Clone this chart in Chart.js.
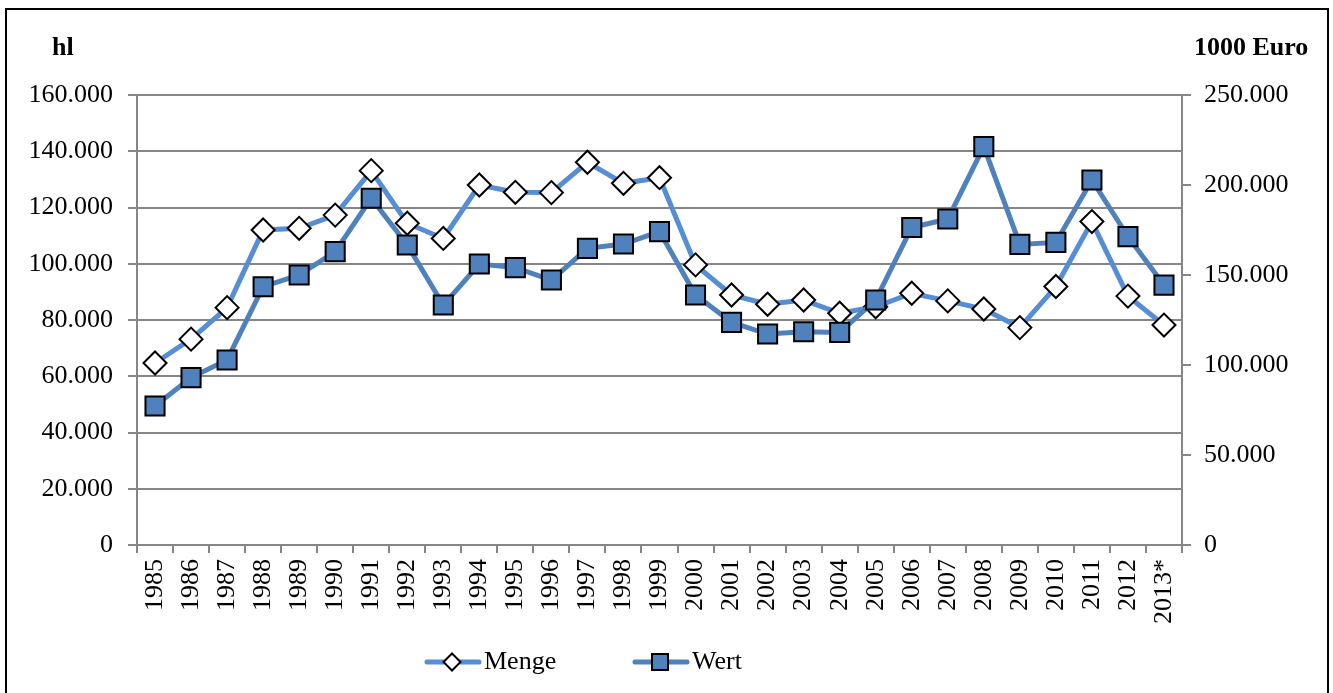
<!DOCTYPE html>
<html lang="de">
<head>
    <meta charset="UTF-8">
    <title>Menge und Wert 1985-2013</title>
    <script src="https://cdn.jsdelivr.net/npm/chart.js"></script>
    <style>
        body { margin: 0; background: #fff; }
        canvas { display: block; }
    </style>
</head>
<body>
    <canvas id="chart" width="1333" height="693"></canvas>

    <script>
        // data
        const years = ['1985', '1986', '1987', '1988', '1989', '1990', '1991', '1992', '1993', '1994',
            '1995', '1996', '1997', '1998', '1999', '2000', '2001', '2002', '2003', '2004',
            '2005', '2006', '2007', '2008', '2009', '2010', '2011', '2012', '2013*'];

        // hl (left axis)
        const menge = [64700, 73200, 84400, 112000, 112600, 117300, 133100, 114400, 109000, 128000,
            125400, 125300, 136100, 128600, 130600, 99600, 88900, 85600, 87100, 82400,
            84700, 89500, 86800, 83900, 77300, 91900, 115000, 88500, 78200];

        // 1000 Euro (right axis)
        const wert = [77200, 93000, 102800, 143500, 150000, 163000, 192600, 166700, 133300, 156100,
            154100, 147200, 164800, 167200, 174100, 138900, 123700, 117200, 118500, 118100,
            136100, 176400, 181100, 221300, 167000, 168100, 202800, 171300, 144400];

        const leftTitle = 'hl';
        const rightTitle = '1000 Euro';

        const FONT = '"Liberation Serif", "Times New Roman", serif';
        const FS = 26;
        const GRID = '#868686';
        const MENGE_COLOR = '#558ED5';
        const WERT_COLOR = '#4F81BD';

        function fmt(v) {
            return String(v).replace(/\B(?=(\d{3})+(?!\d))/g, '.');
        }

        // frame, axis titles and the legend
        const extras = {
            id: 'extras',
            beforeDraw(chart) {
                const ctx = chart.ctx;
                ctx.save();
                ctx.fillStyle = '#fff';
                ctx.fillRect(0, 0, chart.width, chart.height);
                ctx.strokeStyle = '#000';
                ctx.lineWidth = 2;
                ctx.strokeRect(6, 9, 1322, 700);
                ctx.restore();
            },
            afterDraw(chart) {
                const ctx = chart.ctx;
                ctx.save();
                ctx.fillStyle = '#000';
                ctx.font = 'bold ' + FS + 'px ' + FONT;
                ctx.textBaseline = 'middle';
                ctx.textAlign = 'left';
                ctx.fillText(leftTitle, 52, 48);
                ctx.fillText(rightTitle, 1194, 48);

                // legend
                const ly = 662;
                ctx.lineCap = 'round';
                ctx.lineWidth = 5;

                ctx.strokeStyle = MENGE_COLOR;
                ctx.beginPath(); ctx.moveTo(427, ly); ctx.lineTo(479, ly); ctx.stroke();
                ctx.fillStyle = '#fff';
                ctx.strokeStyle = '#000';
                ctx.lineWidth = 2;
                ctx.beginPath();
                ctx.moveTo(452 - 8.5, ly); ctx.lineTo(452, ly - 8.5);
                ctx.lineTo(452 + 8.5, ly); ctx.lineTo(452, ly + 8.5);
                ctx.closePath(); ctx.fill(); ctx.stroke();

                ctx.lineWidth = 5;
                ctx.strokeStyle = WERT_COLOR;
                ctx.beginPath(); ctx.moveTo(635, ly); ctx.lineTo(687, ly); ctx.stroke();
                ctx.fillStyle = WERT_COLOR;
                ctx.strokeStyle = '#000';
                ctx.lineWidth = 2;
                ctx.fillRect(652, ly - 8, 16, 16);
                ctx.strokeRect(652, ly - 8, 16, 16);

                ctx.fillStyle = '#000';
                ctx.font = FS + 'px ' + FONT;
                ctx.fillText('Menge', 484, ly);
                ctx.fillText('Wert', 692, ly);
                ctx.restore();
            }
        };

        new Chart(document.getElementById('chart'), {
            type: 'line',
            data: {
                labels: years,
                datasets: [
                    {
                        label: 'Menge',
                        data: menge,
                        yAxisID: 'y',
                        order: 1,
                        borderColor: MENGE_COLOR,
                        borderWidth: 5,
                        pointStyle: 'rectRot',
                        pointRadius: 11.5,
                        pointBackgroundColor: '#fff',
                        pointBorderColor: '#000',
                        pointBorderWidth: 2,
                        tension: 0,
                        clip: false
                    },
                    {
                        label: 'Wert',
                        data: wert,
                        yAxisID: 'y2',
                        order: 0,
                        borderColor: WERT_COLOR,
                        borderWidth: 5,
                        pointStyle: 'rect',
                        pointRadius: 13.5,
                        pointBackgroundColor: WERT_COLOR,
                        pointBorderColor: '#000',
                        pointBorderWidth: 2,
                        tension: 0,
                        clip: false
                    }
                ]
            },
            options: {
                responsive: false,
                animation: false,
                events: [],
                layout: { padding: { top: 95, left: 0, right: 0, bottom: 0 } },
                plugins: {
                    legend: { display: false },
                    tooltip: { enabled: false },
                    title: { display: false }
                },
                scales: {
                    x: {
                        offset: true,
                        grid: {
                            offset: true,
                            drawOnChartArea: false,
                            color: GRID,
                            lineWidth: 2,
                            tickLength: 8
                        },
                        border: { color: GRID, width: 2 },
                        ticks: {
                            color: '#000',
                            font: { family: FONT, size: FS },
                            minRotation: 90,
                            maxRotation: 90,
                            autoSkip: false,
                            padding: 6
                        },
                        afterFit(scale) { scale.height = 148; }
                    },
                    y: {
                        position: 'left',
                        min: 0,
                        max: 160000,
                        grid: { color: GRID, lineWidth: 2, tickLength: 9 },
                        border: { color: GRID, width: 2 },
                        ticks: {
                            stepSize: 20000,
                            color: '#000',
                            font: { family: FONT, size: FS },
                            padding: 15,
                            callback: v => fmt(v)
                        },
                        afterFit(scale) { scale.width = 137; }
                    },
                    y2: {
                        position: 'right',
                        min: 0,
                        max: 250000,
                        grid: { drawOnChartArea: false, color: GRID, lineWidth: 2, tickLength: 9 },
                        border: { color: GRID, width: 2 },
                        ticks: {
                            stepSize: 50000,
                            color: '#000',
                            font: { family: FONT, size: FS },
                            padding: 13,
                            callback: v => fmt(v)
                        },
                        afterFit(scale) { scale.width = 151; }
                    }
                }
            },
            plugins: [extras]
        });
    </script>
</body>
</html>
